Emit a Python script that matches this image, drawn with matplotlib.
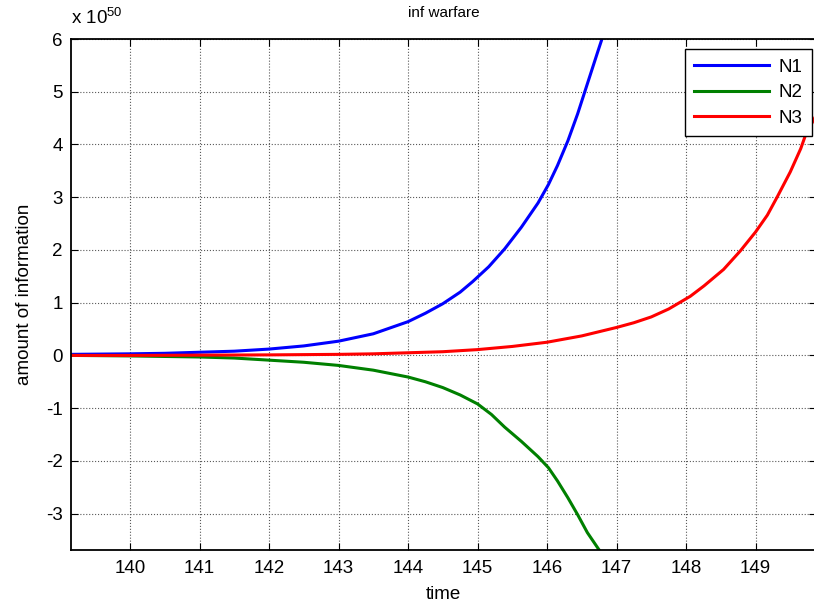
import matplotlib.pyplot as plt

plt.rcParams['font.family'] = ['Liberation Sans', 'DejaVu Sans']
plt.rcParams['axes.unicode_minus'] = False

# values in units of 1e50
t_n1 = [139.15, 140.0, 140.5, 141.0, 141.5, 142.0, 142.5, 143.0, 143.5, 144.0,
        144.25, 144.5, 144.75, 144.93, 145.16, 145.39, 145.63, 145.87, 146.02,
        146.15, 146.3, 146.44, 146.58, 146.73, 146.8]
n1 = [0.02, 0.03, 0.04, 0.06, 0.08, 0.12, 0.18, 0.27, 0.41, 0.64,
      0.8, 0.98, 1.2, 1.4, 1.68, 2.02, 2.43, 2.89, 3.24,
      3.6, 4.07, 4.58, 5.15, 5.76, 6.04]

t_n2 = [139.15, 140.0, 140.5, 141.0, 141.5, 142.0, 142.5, 143.0, 143.5, 144.0,
        144.25, 144.5, 144.75, 145.0, 145.2, 145.39, 145.63, 145.87, 146.02,
        146.15, 146.3, 146.44, 146.58, 146.75]
n2 = [0.0, -0.01, -0.02, -0.03, -0.05, -0.09, -0.13, -0.19, -0.28, -0.41,
      -0.5, -0.61, -0.75, -0.92, -1.12, -1.36, -1.63, -1.92, -2.13,
      -2.38, -2.7, -3.02, -3.36, -3.69]

t_n3 = [139.15, 140.0, 141.0, 142.0, 143.0, 143.5, 144.0, 144.5, 145.0, 145.5,
        146.0, 146.5, 147.0, 147.25, 147.5, 147.75, 148.06, 148.26, 148.54,
        148.78, 149.0, 149.17, 149.31, 149.5, 149.65, 149.72, 149.87]
n3 = [0.0, 0.0, 0.005, 0.01, 0.02, 0.03, 0.05, 0.07, 0.11, 0.17,
      0.25, 0.37, 0.53, 0.62, 0.73, 0.88, 1.12, 1.32, 1.63,
      1.98, 2.34, 2.66, 3.0, 3.48, 3.92, 4.18, 4.55]

fig = plt.figure(figsize=(8.14, 6.05), dpi=100)
ax = fig.add_axes([71 / 814, 55 / 605, 745 / 814, 511 / 605])

ax.plot(t_n1, n1, color='#0000ff', lw=2.2, label='N1')
ax.plot(t_n2, n2, color='#008000', lw=2.2, label='N2')
ax.plot(t_n3, n3, color='#ff0000', lw=2.2, label='N3')

ax.set_xlim(139.15, 149.87)
ax.set_ylim(-3.69, 6)
ax.set_xticks(range(140, 150))
ax.set_yticks(range(-3, 7))
ax.grid(True, color='0.35', linestyle=':', lw=0.8)
ax.tick_params(direction='in', top=True, right=True, labelsize=13.5, length=5)
ax.tick_params(axis='x', pad=7)
ax.tick_params(axis='y', pad=6)
for s in ax.spines.values():
    s.set_linewidth(1.3)

ax.set_title('inf warfare', fontsize=11, pad=16)
ax.set_xlabel('time', fontsize=13.5, labelpad=7)
ax.set_ylabel('amount of information', fontsize=13.5, labelpad=9)
ax.text(0.0, 1.022, r'x 10$^{\mathregular{50}}$', transform=ax.transAxes,
        fontsize=13.5, ha='left', va='bottom')

leg = ax.legend(loc='upper right', bbox_to_anchor=(812 / 814, 1 - 49 / 605),
                bbox_transform=fig.transFigure, fontsize=13.5, fancybox=False,
                edgecolor='black', framealpha=1, handlelength=4.0,
                handletextpad=0.5, labelspacing=0.45, borderpad=0.5,
                borderaxespad=0)
leg.get_frame().set_linewidth(1.0)

fig.savefig('out.png', dpi=100)
